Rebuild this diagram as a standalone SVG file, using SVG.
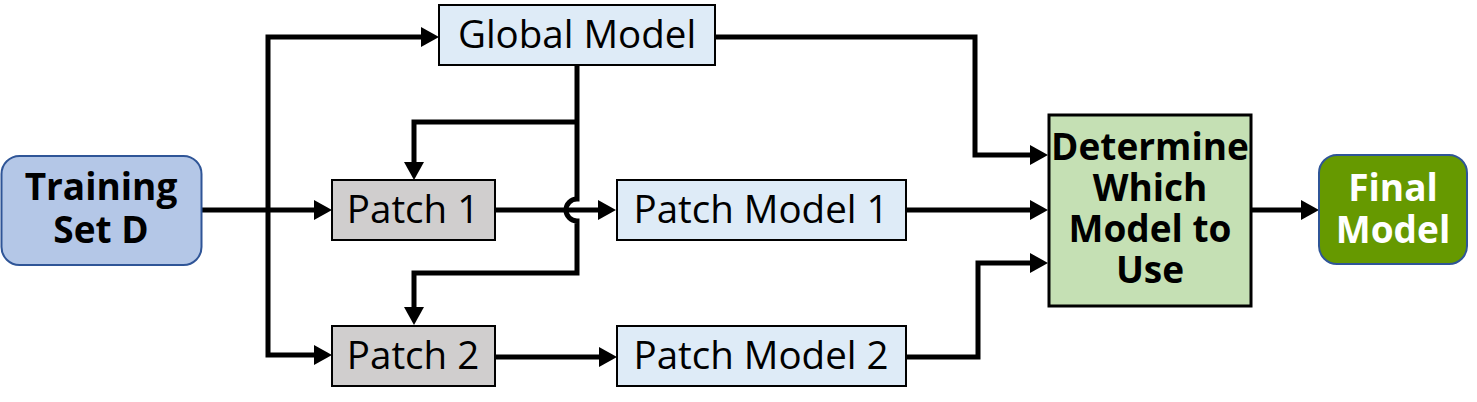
<svg xmlns="http://www.w3.org/2000/svg" width="1477" height="402" viewBox="0 0 1477 402">
<style>
  .t{font-family:"Open Sans","Noto Sans","DejaVu Sans",sans-serif;font-size:38.5px;fill:#000;text-anchor:middle}
  .b{font-family:"Open Sans","Noto Sans","DejaVu Sans",sans-serif;font-size:37px;font-weight:bold;text-anchor:middle}
  .box{stroke:#000;stroke-width:2}
  .conn{fill:none;stroke:#000;stroke-width:5;stroke-linejoin:miter}
</style>
<defs>
  <marker id="arr" viewBox="0 0 18 20" refX="2" refY="10" markerWidth="18" markerHeight="20" markerUnits="userSpaceOnUse" orient="auto">
    <path d="M0,0 L18,10 L0,20 z" fill="#000"/>
  </marker>
</defs>
<rect width="1477" height="402" fill="#fff"/>
<g id="connectors" class="conn">
  <path d="M201,210 H316" marker-end="url(#arr)"/>
  <path d="M268,210 V37 H423" marker-end="url(#arr)"/>
  <path d="M268,210 V355 H316" marker-end="url(#arr)"/>
  <path d="M577,65 V199 A11,11 0 0 0 577,221 V273 H414 V309" marker-end="url(#arr)"/>
  <path d="M577,122 H414 V164" marker-end="url(#arr)"/>
  <path d="M495,210 H600" marker-end="url(#arr)"/>
  <path d="M495,357 H601" marker-end="url(#arr)"/>
  <path d="M715,37 H975 V155 H1032" marker-end="url(#arr)"/>
  <path d="M906,210 H1032" marker-end="url(#arr)"/>
  <path d="M906,357 H978 V263 H1032" marker-end="url(#arr)"/>
  <path d="M1252,210 H1303" marker-end="url(#arr)"/>
</g>
<g id="training">
  <rect x="1.5" y="156" width="200" height="109" rx="18" fill="#b4c7e7" stroke="#2f5597" stroke-width="2"/>
  <text class="b" x="101" y="200">Training</text>
  <text class="b" x="101" y="243">Set D</text>
</g>
<g id="global">
  <rect class="box" x="439" y="5" width="276" height="60" fill="#deebf7"/>
  <text class="t" x="577" y="48">Global Model</text>
</g>
<g id="patch1">
  <rect class="box" x="332" y="180" width="163" height="60" fill="#d0cece"/>
  <text class="t" x="413" y="223">Patch 1</text>
</g>
<g id="patch2">
  <rect class="box" x="332" y="326" width="163" height="60" fill="#d0cece"/>
  <text class="t" x="413" y="369">Patch 2</text>
</g>
<g id="pm1">
  <rect class="box" x="617" y="180" width="289" height="60" fill="#deebf7"/>
  <text class="t" x="761" y="223">Patch Model 1</text>
</g>
<g id="pm2">
  <rect class="box" x="617" y="326" width="289" height="60" fill="#deebf7"/>
  <text class="t" x="761" y="369">Patch Model 2</text>
</g>
<g id="determine">
  <rect x="1049" y="115" width="202" height="191" fill="#c5e0b4" stroke="#000" stroke-width="3"/>
  <text class="b" x="1150" y="160">Determine</text>
  <text class="b" x="1150" y="201">Which</text>
  <text class="b" x="1150" y="242">Model to</text>
  <text class="b" x="1150" y="283">Use</text>
</g>
<g id="final">
  <rect x="1319" y="155" width="148" height="109" rx="18" fill="#669900" stroke="#2f5597" stroke-width="2"/>
  <text class="b" x="1393" y="201" fill="#fff">Final</text>
  <text class="b" x="1393" y="243" fill="#fff">Model</text>
</g>
</svg>
